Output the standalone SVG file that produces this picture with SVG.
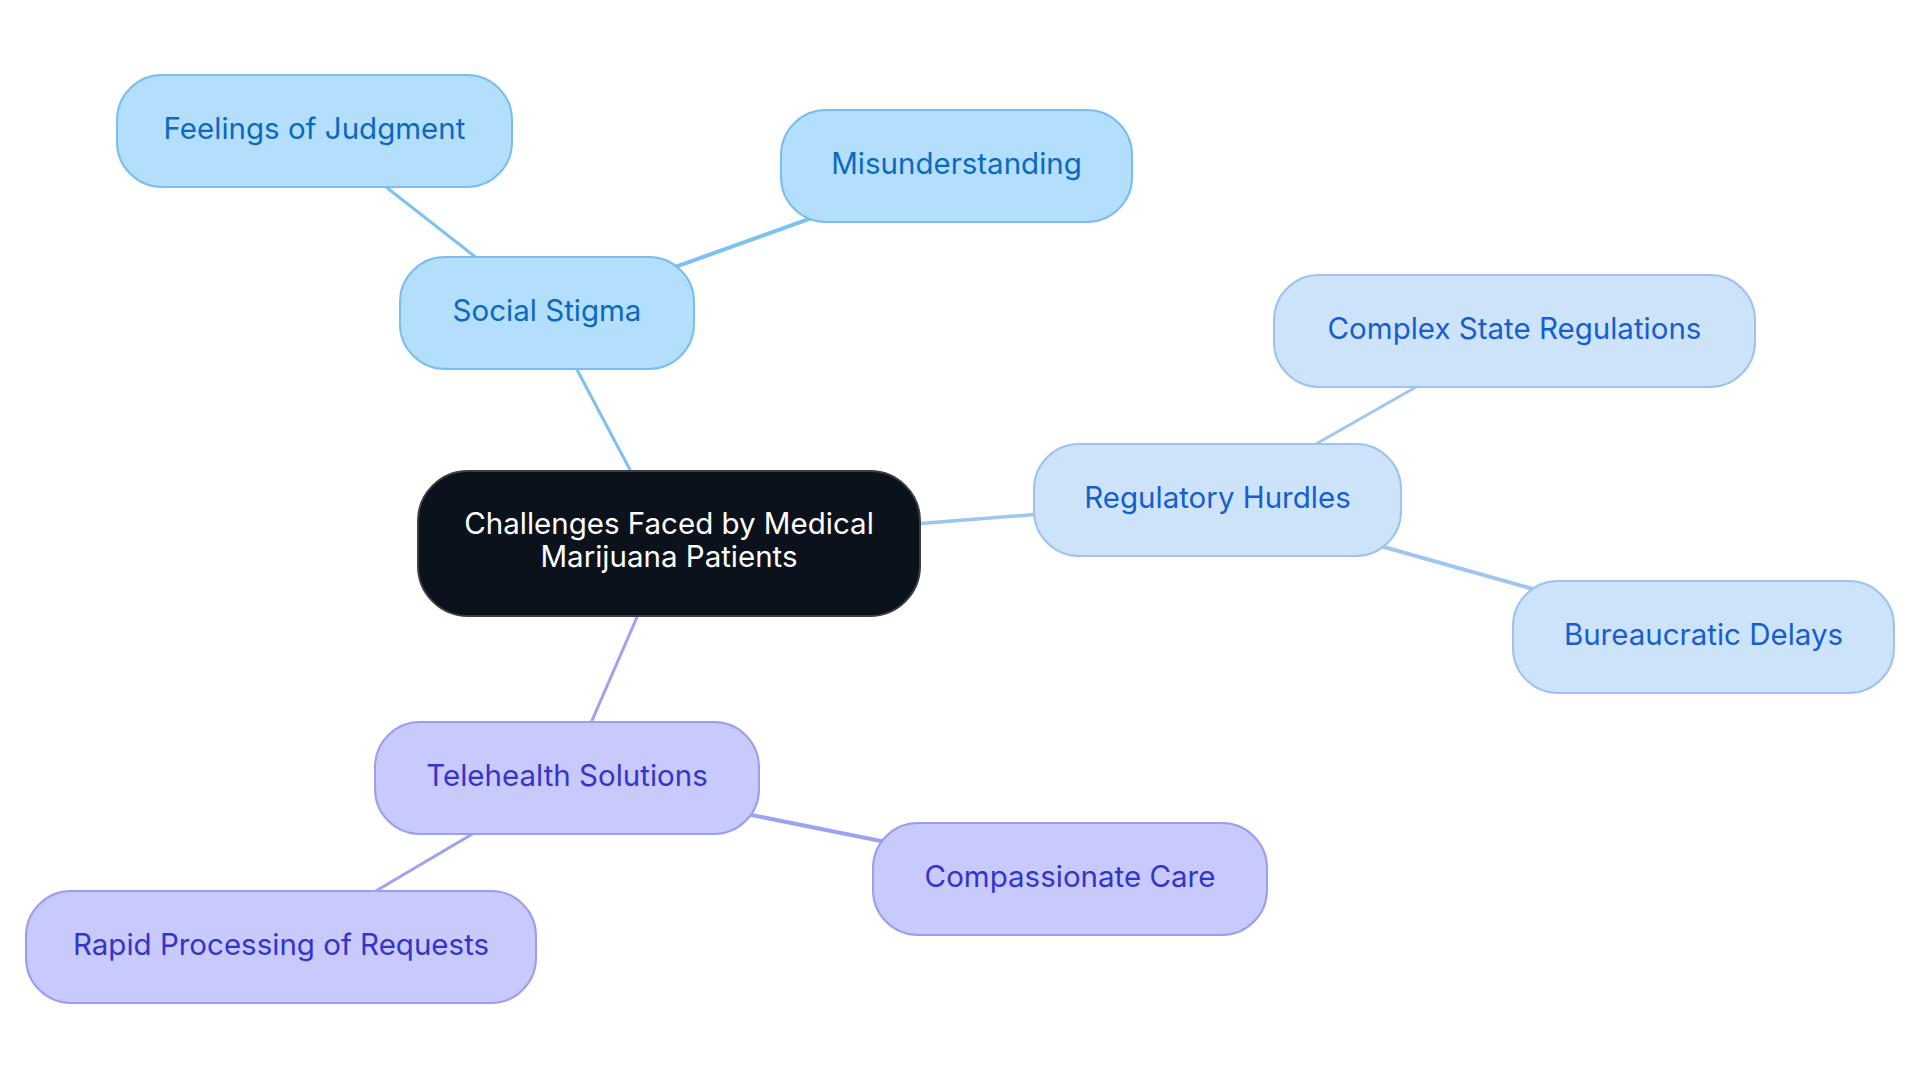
<svg xmlns="http://www.w3.org/2000/svg" width="1920" height="1083" viewBox="0 0 1920 1083">
<style>
  text { font-family: Inter, "Open Sans", "Liberation Sans", sans-serif; font-size: 29.5px; text-anchor: middle; }
  .n rect { stroke-width: 2; }
  .social rect { fill: #b3dffd; stroke: #7cbdf0; }
  .social text { fill: #0a69c0; }
  .reg rect { fill: #cde3fa; stroke: #9dc3f0; }
  .reg text { fill: #165ecf; }
  .tele rect { fill: #c8c9fc; stroke: #9b9df0; }
  .tele text { fill: #3434c9; }
  .root rect { fill: #0c121b; stroke: #3a3e45; }
  .root text { fill: #ffffff; }
  .e { fill: none; stroke-linecap: round; }
  .e-social { stroke: #7dc0f2; }
  .e-reg { stroke: #9fc6f0; }
  .e-tele { stroke: #9fa1f3; }
</style>
<rect width="1920" height="1083" fill="#ffffff"/>
<g id="connectors">
  <line class="e e-social" x1="669" y1="543.5" x2="547" y2="313" stroke-width="3"/>
  <line class="e e-social" x1="547" y1="313" x2="314.5" y2="131" stroke-width="3"/>
  <line class="e e-social" x1="547" y1="313" x2="956.5" y2="166" stroke-width="4"/>
  <line class="e e-reg" x1="669" y1="543.5" x2="1217.5" y2="500" stroke-width="3.5"/>
  <line class="e e-reg" x1="1217.5" y1="500" x2="1514.5" y2="331" stroke-width="3"/>
  <line class="e e-reg" x1="1217.5" y1="500" x2="1703.5" y2="637" stroke-width="4"/>
  <line class="e e-tele" x1="669" y1="543.5" x2="567" y2="778" stroke-width="3"/>
  <line class="e e-tele" x1="567" y1="778" x2="1070" y2="879" stroke-width="4"/>
  <line class="e e-tele" x1="567" y1="778" x2="281" y2="947" stroke-width="3"/>
</g>
<g id="node-root" class="n root">
  <rect x="418" y="471" width="502" height="145" rx="50" ry="50"/>
  <text x="669" y="534">Challenges Faced by Medical</text>
  <text x="669" y="567">Marijuana Patients</text>
</g>
<g id="node-social" class="n social">
  <rect x="400" y="257" width="294" height="112" rx="45" ry="45"/>
  <text x="547" y="321">Social Stigma</text>
</g>
<g id="node-feelings" class="n social">
  <rect x="117" y="75" width="395" height="112" rx="45" ry="45"/>
  <text x="314.5" y="139">Feelings of Judgment</text>
</g>
<g id="node-misunderstanding" class="n social">
  <rect x="781" y="110" width="351" height="112" rx="45" ry="45"/>
  <text x="956.5" y="174">Misunderstanding</text>
</g>
<g id="node-regulatory" class="n reg">
  <rect x="1034" y="444" width="367" height="112" rx="45" ry="45"/>
  <text x="1217.5" y="508">Regulatory Hurdles</text>
</g>
<g id="node-complex" class="n reg">
  <rect x="1274" y="275" width="481" height="112" rx="45" ry="45"/>
  <text x="1514.5" y="339">Complex State Regulations</text>
</g>
<g id="node-bureaucratic" class="n reg">
  <rect x="1513" y="581" width="381" height="112" rx="45" ry="45"/>
  <text x="1703.5" y="645">Bureaucratic Delays</text>
</g>
<g id="node-telehealth" class="n tele">
  <rect x="375" y="722" width="384" height="112" rx="45" ry="45"/>
  <text x="567" y="786">Telehealth Solutions</text>
</g>
<g id="node-compassionate" class="n tele">
  <rect x="873" y="823" width="394" height="112" rx="45" ry="45"/>
  <text x="1070" y="887">Compassionate Care</text>
</g>
<g id="node-rapid" class="n tele">
  <rect x="26" y="891" width="510" height="112" rx="45" ry="45"/>
  <text x="281" y="955">Rapid Processing of Requests</text>
</g>
</svg>
